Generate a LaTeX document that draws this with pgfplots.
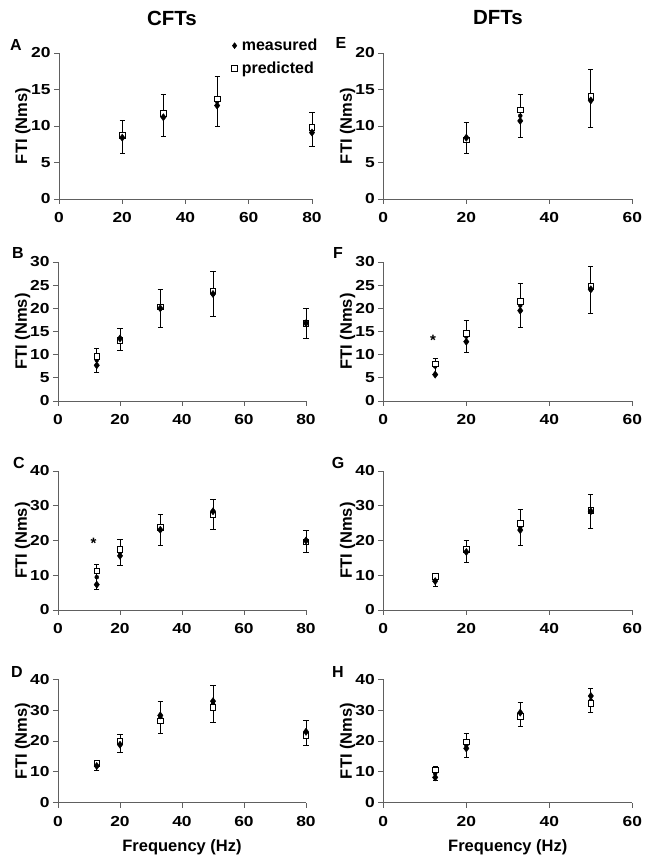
\documentclass[border=0pt]{standalone}
\usepackage{fontspec}
\setmainfont{Liberation Sans}
\newfontfamily\tickfont{Liberation Sans}[FakeStretch=1.2]
\usepackage{pgfplots}
\usepackage{pgfplotstable}
\pgfplotsset{compat=1.18}

% f = frequency (Hz), m = measured, p = predicted, lo/hi = ends of the error bars
\pgfplotstableread{
f    m     p     lo    hi
20   8.4   8.7   6.2   10.8
33   11.2  11.7  8.6   14.4
50   12.8  13.7  9.9   16.8
80   9.1   9.8   7.2   11.9
}\dataA
\pgfplotstableread{
f    m     p     lo    hi
12.5 7.7   9.6   6.2   11.4
20   13.5  13.1  11.0  15.7
33   20.0  20.3  15.8  24.1
50   23.1  23.8  18.2  28.0
80   16.8  16.8  13.5  19.9
}\dataB
\pgfplotstableread{
f    m     p     lo    hi
12.5 7.3   11.3  5.9   13.0
20   15.6  17.4  12.9  20.3
33   23.1  23.8  18.6  27.4
50   28.4  27.4  23.2  31.9
80   20.0  19.6  16.5  22.8
}\dataC
\pgfplotstableread{
f    m     p     lo    hi
12.5 11.9  12.7  10.4  13.6
20   18.8  19.8  16.3  22.3
33   28.3  26.5  22.5  32.9
50   32.9  31.0  26.2  37.9
80   23.0  21.9  18.5  26.8
}\dataD
\pgfplotstableread{
f    m     p     lo    hi
20   8.4   8.1   6.2   10.5
33   10.7  12.2  8.4   14.4
50   13.5  14.1  9.8   17.8
}\dataE
\pgfplotstableread{
f    m     p     lo    hi
12.5 5.7   8.0   5.7   9.2
20   12.8  14.6  10.4  17.4
33   19.5  21.5  15.8  25.4
50   24.1  24.7  19.0  29.0
}\dataF
\pgfplotstableread{
f    m     p     lo    hi
12.5 8.3   9.6   6.7   10.5
20   16.7  17.4  13.6  19.9
33   23.0  24.9  18.6  28.9
50   28.4  28.7  23.4  33.2
}\dataG
\pgfplotstableread{
f    m     p     lo    hi
12.5 8.2   10.6  7.1   11.9
20   17.6  19.7  14.6  22.5
33   29.2  28.0  24.9  32.4
50   34.6  32.3  29.2  37.1
}\dataH

\pgfplotsset{
  panel/.style={
    scale only axis, anchor=south west, clip=false,
    axis x line=bottom, axis y line=left,
    axis line style={-, gray!75!black, line width=0.9pt},
    tick style={gray!75!black, line width=0.9pt},
    tick align=outside, major tick length=5pt,
    xmin=0, ymin=0, enlargelimits=false,
    tick label style={font=\fontsize{14.5}{14.5}\tickfont\bfseries},
    xticklabel style={yshift=-5pt},
    /pgf/number format/assume math mode=true,
    ylabel={FTI (Nms)},
    every axis y label/.style={at={(axis description cs:-0.143,0.5)}, rotate=90, anchor=center,
      font=\fontsize{16.5}{16.5}\selectfont\bfseries},
    every axis x label/.style={at={(axis description cs:0.5,0)}, anchor=center, yshift=-45pt,
      font=\fontsize{16.5}{16.5}\selectfont\bfseries},
  },
  cft/.style={panel, width=248pt, xmax=80, xtick={0,20,...,80}},
  dft/.style={panel, width=249pt, xmax=60, xtick={0,20,...,60}},
  errs/.style={only marks, mark=none, forget plot,
    error bars/y dir=both, error bars/y explicit,
    error bars/error bar style={draw=black, line width=0.7pt},
    error bars/error mark options={rotate=90, draw=black, mark size=2.6pt, line width=0.7pt},
  },
  meas/.style={only marks, mark=diamond*, mark size=3.6pt, black},
  pred/.style={only marks, mark=square*, mark size=2.8pt,
    mark options={fill=white, draw=black, line width=0.7pt}},
  table/bars/.style={x=f, y expr={(\thisrow{lo}+\thisrow{hi})/2}, y error expr={(\thisrow{hi}-\thisrow{lo})/2}},
}

\begin{document}
\begin{tikzpicture}[x=1pt, y=1pt]
\useasboundingbox (0,0) rectangle (654,862);

\node[font=\fontsize{20.5}{20.5}\selectfont\bfseries] at (172,844) {CFTs};
\node[font=\fontsize{20.5}{20.5}\selectfont\bfseries] at (498,844) {DFTs};

% A
\begin{axis}[cft, at={(59pt,663pt)}, width=253pt, height=146pt, ymax=20, ytick={0,5,...,20},
  reverse legend,
  legend style={at={(axis description cs:1.03,1.11)}, anchor=north east, draw=none, fill=none,
    font=\fontsize{16}{16}\selectfont\bfseries, row sep=6pt, inner sep=0pt},
  legend cell align=left,
  legend image code/.code={\path (-5pt,0pt) (5pt,0pt); \draw[#1, mark size=3pt] plot coordinates {(0pt,0pt)};}]
\addplot[errs] table[bars] {\dataA};
\addplot[pred] table[x=f, y=p] {\dataA};
\addlegendentry{predicted}
\addplot[meas] table[x=f, y=m] {\dataA};
\addlegendentry{measured}
\end{axis}

% B
\begin{axis}[cft, at={(58pt,461pt)}, height=139pt, ymax=30, ytick={0,5,...,30}]
\addplot[errs] table[bars] {\dataB};
\addplot[pred] table[x=f, y=p] {\dataB};
\addplot[meas] table[x=f, y=m] {\dataB};
\end{axis}

% C
\begin{axis}[cft, at={(58pt,252pt)}, height=139pt, ymax=40, ytick={0,10,...,40}]
\addplot[errs] table[bars] {\dataC};
\addplot[pred] table[x=f, y=p] {\dataC};
\addplot[meas] table[x=f, y=m] {\dataC};
\node[font=\fontsize{15}{15}\selectfont\bfseries, yshift=-3pt] at (axis cs:11.5,20) {*};
\end{axis}

% D
\begin{axis}[cft, at={(58pt,59.3pt)}, height=123.4pt, ymax=40, ytick={0,10,...,40},
  xlabel={Frequency (Hz)}]
\addplot[errs] table[bars] {\dataD};
\addplot[pred] table[x=f, y=p] {\dataD};
\addplot[meas] table[x=f, y=m] {\dataD};
\end{axis}

% E
\begin{axis}[dft, at={(383.3pt,663pt)}, height=146pt, ymax=20, ytick={0,5,...,20}]
\addplot[errs] table[bars] {\dataE};
\addplot[pred] table[x=f, y=p] {\dataE};
\addplot[meas] table[x=f, y=m] {\dataE};
\end{axis}

% F
\begin{axis}[dft, at={(383.3pt,461pt)}, height=139pt, ymax=30, ytick={0,5,...,30}]
\addplot[errs] table[bars] {\dataF};
\addplot[pred] table[x=f, y=p] {\dataF};
\addplot[meas] table[x=f, y=m] {\dataF};
\node[font=\fontsize{15}{15}\selectfont\bfseries, yshift=-3pt] at (axis cs:12,13.8) {*};
\end{axis}

% G
\begin{axis}[dft, at={(383.3pt,252pt)}, height=139pt, ymax=40, ytick={0,10,...,40}]
\addplot[errs] table[bars] {\dataG};
\addplot[pred] table[x=f, y=p] {\dataG};
\addplot[meas] table[x=f, y=m] {\dataG};
\end{axis}

% H
\begin{axis}[dft, at={(383.3pt,59.3pt)}, height=123.4pt, ymax=40, ytick={0,10,...,40},
  xlabel={Frequency (Hz)}]
\addplot[errs] table[bars] {\dataH};
\addplot[pred] table[x=f, y=p] {\dataH};
\addplot[meas] table[x=f, y=m] {\dataH};
\end{axis}

% panel letters
\begin{scope}[every node/.style={font=\fontsize{16}{16}\selectfont\bfseries}]
\node at (16,817) {A};
\node at (18,609) {B};
\node at (19,399) {C};
\node at (17,190) {D};
\node at (341,819) {E};
\node at (338,609) {F};
\node at (338,399) {G};
\node at (338,190) {H};
\end{scope}
\end{tikzpicture}
\end{document}
